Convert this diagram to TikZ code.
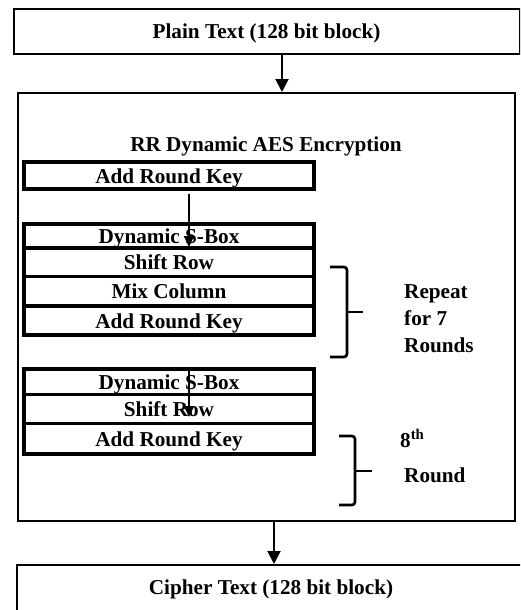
\documentclass[tikz,border=0pt]{standalone}
\usepackage{fontspec}
\setmainfont{Liberation Serif}
\usetikzlibrary{arrows.meta}
\tikzset{
  bigfont/.style={font=\fontsize{21.2}{25}\selectfont\bfseries},
  outerbox/.style={draw=black, line width=2pt, fill=white, inner sep=0pt, text height=15pt, text depth=0pt, bigfont},
  innerbox/.style={draw=black, line width=3.2pt, inner sep=0pt, minimum width=290pt, text height=15pt, text depth=0pt, bigfont},
  lbl/.style={inner sep=0pt, bigfont},
  bigarrow/.style={line width=2pt, -{Triangle[width=13pt,length=13pt]}},
  smallarrow/.style={line width=2pt, -{Triangle[width=10pt,length=11pt]}},
  bracepath/.style={line width=2.6pt, rounded corners=3pt},
}
\begin{document}
\begin{tikzpicture}[x=1pt, y=-1pt]
\useasboundingbox (0,0) rectangle (520,610);
\begin{scope}
\clip (0,0) rectangle (520,610);
\node[outerbox, minimum width=497pt, minimum height=428pt] (big) at (266.5,307) {};
\node[outerbox, minimum width=506pt, minimum height=45pt] (plain) at (266.5,31.5) {Plain Text (128 bit block)};
\node[outerbox, minimum width=508pt, minimum height=60pt, text depth=16pt] (cipher) at (271,595) {Cipher Text (128 bit block)};
\end{scope}
\node[lbl, anchor=base] (title) at (266,151) {RR Dynamic AES Encryption};
\node[innerbox, minimum height=27pt] (ark1) at (169,175.5) {Add Round Key};
\node[innerbox, minimum height=24pt] (sbox1) at (169,236) {Dynamic S-Box};
\node[innerbox, minimum height=28.5pt] (shift1) at (169,262.25) {Shift Row};
\node[innerbox, minimum height=29.5pt] (mix) at (169,291.25) {Mix Column};
\node[innerbox, minimum height=29pt] (ark2) at (169,320.5) {Add Round Key};
\node[innerbox, minimum height=25.5pt] (sbox2) at (169,381.75) {Dynamic S-Box};
\node[innerbox, minimum height=29pt] (shift2) at (169,409) {Shift Row};
\node[innerbox, minimum height=30.5pt] (ark3) at (169,438.75) {Add Round Key};
% arrows
\coordinate (ax1) at (282,0);
\coordinate (ax2) at (274,0);
\draw[bigarrow] (plain.south -| ax1) -- (big.north -| ax1);
\draw[bigarrow] (big.south -| ax2) -- (cipher.north -| ax2);
\coordinate (tip1) at (189,247);
\coordinate (tip2) at (189,417);
\draw[smallarrow] ([yshift=-3pt]ark1.south -| tip1) -- (tip1);
\draw[smallarrow] (sbox2.north -| tip2) -- (tip2);
% braces
\coordinate (b1t) at (330,267);
\coordinate (b1m) at (347,312);
\coordinate (b1b) at (330,357);
\draw[bracepath] (b1t) -- (b1t -| b1m) -- (b1b -| b1m) -- (b1b);
\draw[line width=2.6pt] (b1m) -- ++(16,0);
\coordinate (b2t) at (339,436);
\coordinate (b2m) at (355,471);
\coordinate (b2b) at (339,505);
\draw[bracepath] (b2t) -- (b2t -| b2m) -- (b2b -| b2m) -- (b2b);
\draw[line width=2.6pt] (b2m) -- ++(17,0);
% labels
\node[lbl, anchor=base west] (rep1) at (404,298) {Repeat};
\node[lbl, anchor=base west] (rep2) at (404,325) {for 7};
\node[lbl, anchor=base west] (rep3) at (404,352) {Rounds};
\node[lbl, anchor=base west] (r8a) at (400,447) {8\textsuperscript{th}};
\node[lbl, anchor=base west] (r8b) at (404,482) {Round};
\end{tikzpicture}
\end{document}
